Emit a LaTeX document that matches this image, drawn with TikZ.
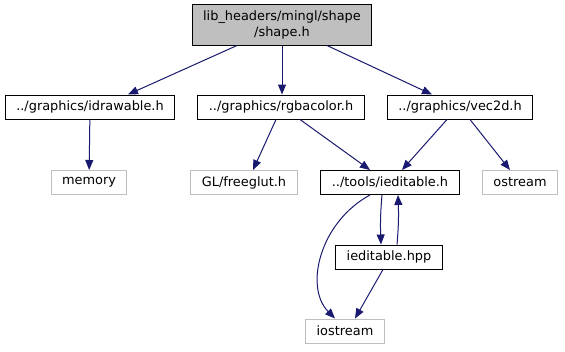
\documentclass[tikz,border=0pt]{standalone}
\usepackage{fontspec}
\setmainfont{DejaVu Sans}
\usetikzlibrary{arrows.meta}
\definecolor{edgeblue}{HTML}{191970}
\definecolor{hdrgray}{HTML}{BFBFBF}

\begin{document}
\begin{tikzpicture}[x=1pt,y=-1pt,font=\fontsize{12.9}{16}\selectfont,
  file/.style={draw=black,fill=white,line width=1pt,inner xsep=11pt,inner ysep=0pt,minimum height=24pt},
  ext/.style={file,draw=hdrgray},
  dep/.style={edgeblue,line width=1pt,-{Triangle[length=10pt,width=8pt]}}]
  \useasboundingbox (0,0) rectangle (565,351);
  \node[file,fill=hdrgray,align=center,minimum height=41pt] (shape) at (282,24.5) {lib\_headers/mingl/shape\\/shape.h};
  \node[file] (idraw) at (90,107) {../graphics/idrawable.h};
  \node[file] (rgba) at (281,107) {../graphics/rgbacolor.h};
  \node[file] (vec) at (460,107) {../graphics/vec2d.h};
  \node[ext] (memory) at (89,182.5) {memory};
  \node[ext] (glut) at (244,182.5) {GL/freeglut.h};
  \node[file] (iedh) at (390,182.5) {../tools/ieditable.h};
  \node[ext] (ostream) at (520,182.5) {ostream};
  \node[file] (iedhpp) at (389,257) {ieditable.hpp};
  \node[ext] (iostream) at (345,331) {iostream};
  % includes
  \draw[dep] ([xshift=-45pt]shape.south) -- ([xshift=38pt]idraw.north);
  \draw[dep] (shape.south) -- (shape.south |- rgba.north);
  \draw[dep] ([xshift=45pt]shape.south) -- ([xshift=-28pt]vec.north);
  \draw[dep] (idraw) -- (memory);
  \draw[dep] ([xshift=-5pt]rgba.south) -- ([xshift=9pt]glut.north);
  \draw[dep] ([xshift=19pt]rgba.south) -- ([xshift=-20pt]iedh.north);
  \draw[dep] ([xshift=-13pt]vec.south) -- ([xshift=12pt]iedh.north);
  \draw[dep] ([xshift=10pt]vec.south) -- ([xshift=-10pt]ostream.north);
  % ieditable.h <-> ieditable.hpp
  \draw[dep] ([xshift=-8pt]iedh.south) to[out=-95,in=92] ([xshift=-8pt]iedhpp.north);
  \draw[dep] ([xshift=8pt]iedhpp.north) to[out=85,in=-88] ([xshift=8pt]iedh.south);
  \draw[dep] ([xshift=-20pt]iedh.south) .. controls (320,222) and (304,287) .. ([xshift=-10pt]iostream.north);
  \draw[dep] ([xshift=-6pt]iedhpp.south) -- ([xshift=10pt]iostream.north);
\end{tikzpicture}
\end{document}
